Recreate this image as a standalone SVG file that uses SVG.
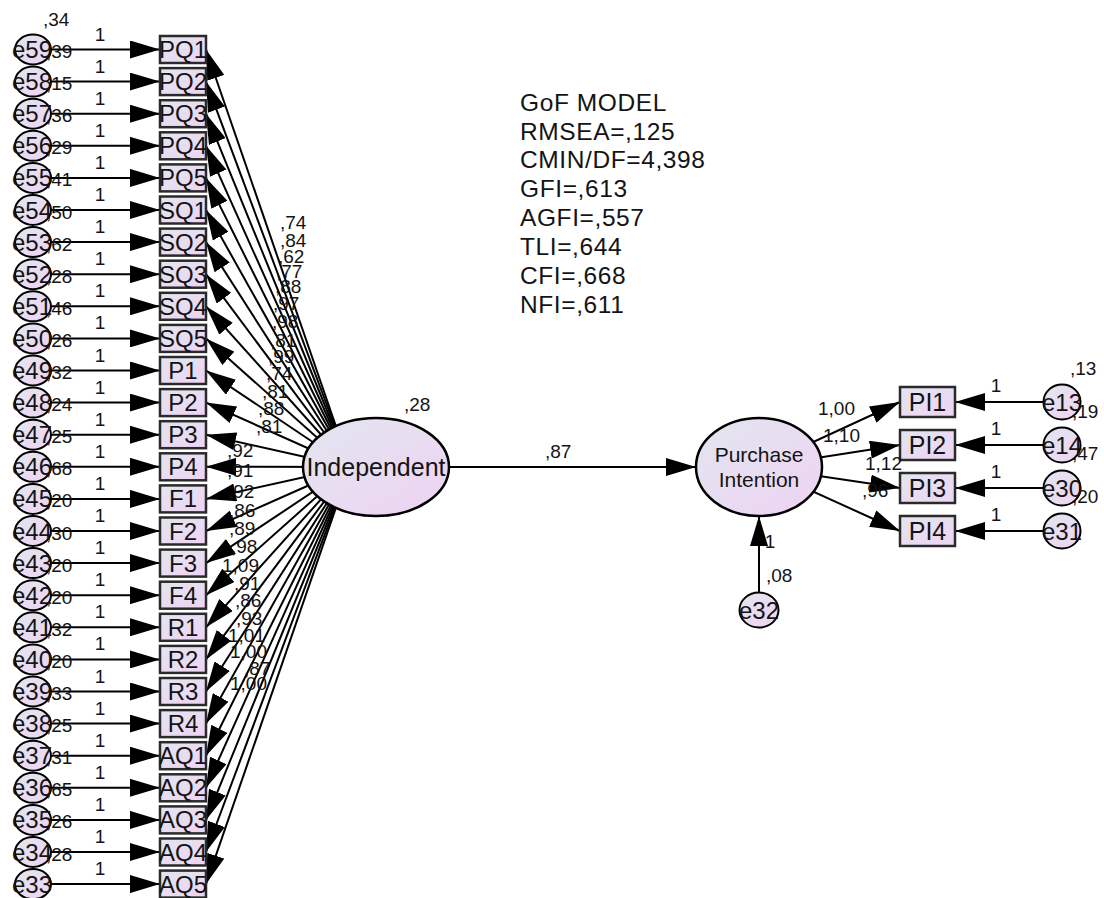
<svg xmlns="http://www.w3.org/2000/svg" width="1104" height="898" viewBox="0 0 1104 898">
<style>
text{font-family:"Liberation Sans",Arial,sans-serif;fill:#141414}
.n{font-size:24px;text-anchor:middle}
.v{font-size:19px}
.one{font-size:19px;text-anchor:middle}
.st{font-size:24.5px;letter-spacing:0.6px}
.pi{font-size:21px;text-anchor:middle}
.c path{fill:none;stroke:#000;stroke-width:2;marker-end:url(#ah)}
.box{fill:url(#g);stroke:#2a2a2a;stroke-width:2.5}
.cir{fill:url(#g);stroke:#000;stroke-width:2}
.lat{fill:url(#g);stroke:#000;stroke-width:2.5}
</style>
<defs>
<linearGradient id="g" x1="0" y1="0" x2="1" y2="1">
<stop offset="0" stop-color="#e2e6ef"/>
<stop offset="1" stop-color="#eed3f3"/>
</linearGradient>
<marker id="ah" markerUnits="userSpaceOnUse" markerWidth="30" markerHeight="18" refX="30" refY="9" orient="auto">
<path d="M0,0 L30,9 L0,18 z" fill="#000"/>
</marker>
</defs>
<rect width="1104" height="898" fill="#fff"/>
<g id="connectors" class="c">
<path d="M33 49.5H160"/><path d="M33 81.6H160"/><path d="M33 113.7H160"/><path d="M33 145.8H160"/><path d="M33 177.9H160"/><path d="M33 210H160"/><path d="M33 242.1H160"/><path d="M33 274.2H160"/><path d="M33 306.3H160"/><path d="M33 338.4H160"/><path d="M33 370.5H160"/><path d="M33 402.6H160"/><path d="M33 434.7H160"/><path d="M33 466.8H160"/><path d="M33 498.9H160"/><path d="M33 531H160"/><path d="M33 563.1H160"/><path d="M33 595.2H160"/><path d="M33 627.3H160"/><path d="M33 659.4H160"/><path d="M33 691.5H160"/><path d="M33 723.6H160"/><path d="M33 755.7H160"/><path d="M33 787.8H160"/><path d="M33 819.9H160"/><path d="M33 852H160"/><path d="M33 884.1H160"/>
<path d="M350 467L206 49.5"/><path d="M350 467L206 81.6"/><path d="M350 467L206 113.7"/><path d="M350 467L206 145.8"/><path d="M350 467L206 177.9"/><path d="M350 467L206 210"/><path d="M350 467L206 242.1"/><path d="M350 467L206 274.2"/><path d="M350 467L206 306.3"/><path d="M350 467L206 338.4"/><path d="M350 467L206 370.5"/><path d="M350 467L206 402.6"/><path d="M350 467L206 434.7"/><path d="M350 467L206 466.8"/><path d="M350 467L206 498.9"/><path d="M350 467L206 531"/><path d="M350 467L206 563.1"/><path d="M350 467L206 595.2"/><path d="M350 467L206 627.3"/><path d="M350 467L206 659.4"/><path d="M350 467L206 691.5"/><path d="M350 467L206 723.6"/><path d="M350 467L206 755.7"/><path d="M350 467L206 787.8"/><path d="M350 467L206 819.9"/><path d="M350 467L206 852"/><path d="M350 467L206 884.1"/>
<path d="M376 467H696"/>
<path d="M759 467L900 402"/><path d="M759 467L900 445"/><path d="M759 467L900 488"/><path d="M759 467L900 531"/>
<path d="M1062 402H955"/><path d="M1062 445H955"/><path d="M1062 488H955"/><path d="M1062 531H955"/>
<path d="M759 610V516"/>
</g>
<g id="e59"><ellipse class="cir" cx="33" cy="49.5" rx="18" ry="15"/><text class="n" x="32" y="58">e59</text></g>
<g id="e58"><ellipse class="cir" cx="33" cy="81.6" rx="18" ry="15"/><text class="n" x="32" y="90.1">e58</text></g>
<g id="e57"><ellipse class="cir" cx="33" cy="113.7" rx="18" ry="15"/><text class="n" x="32" y="122.2">e57</text></g>
<g id="e56"><ellipse class="cir" cx="33" cy="145.8" rx="18" ry="15"/><text class="n" x="32" y="154.3">e56</text></g>
<g id="e55"><ellipse class="cir" cx="33" cy="177.9" rx="18" ry="15"/><text class="n" x="32" y="186.4">e55</text></g>
<g id="e54"><ellipse class="cir" cx="33" cy="210" rx="18" ry="15"/><text class="n" x="32" y="218.5">e54</text></g>
<g id="e53"><ellipse class="cir" cx="33" cy="242.1" rx="18" ry="15"/><text class="n" x="32" y="250.6">e53</text></g>
<g id="e52"><ellipse class="cir" cx="33" cy="274.2" rx="18" ry="15"/><text class="n" x="32" y="282.7">e52</text></g>
<g id="e51"><ellipse class="cir" cx="33" cy="306.3" rx="18" ry="15"/><text class="n" x="32" y="314.8">e51</text></g>
<g id="e50"><ellipse class="cir" cx="33" cy="338.4" rx="18" ry="15"/><text class="n" x="32" y="346.9">e50</text></g>
<g id="e49"><ellipse class="cir" cx="33" cy="370.5" rx="18" ry="15"/><text class="n" x="32" y="379">e49</text></g>
<g id="e48"><ellipse class="cir" cx="33" cy="402.6" rx="18" ry="15"/><text class="n" x="32" y="411.1">e48</text></g>
<g id="e47"><ellipse class="cir" cx="33" cy="434.7" rx="18" ry="15"/><text class="n" x="32" y="443.2">e47</text></g>
<g id="e46"><ellipse class="cir" cx="33" cy="466.8" rx="18" ry="15"/><text class="n" x="32" y="475.3">e46</text></g>
<g id="e45"><ellipse class="cir" cx="33" cy="498.9" rx="18" ry="15"/><text class="n" x="32" y="507.4">e45</text></g>
<g id="e44"><ellipse class="cir" cx="33" cy="531" rx="18" ry="15"/><text class="n" x="32" y="539.5">e44</text></g>
<g id="e43"><ellipse class="cir" cx="33" cy="563.1" rx="18" ry="15"/><text class="n" x="32" y="571.6">e43</text></g>
<g id="e42"><ellipse class="cir" cx="33" cy="595.2" rx="18" ry="15"/><text class="n" x="32" y="603.7">e42</text></g>
<g id="e41"><ellipse class="cir" cx="33" cy="627.3" rx="18" ry="15"/><text class="n" x="32" y="635.8">e41</text></g>
<g id="e40"><ellipse class="cir" cx="33" cy="659.4" rx="18" ry="15"/><text class="n" x="32" y="667.9">e40</text></g>
<g id="e39"><ellipse class="cir" cx="33" cy="691.5" rx="18" ry="15"/><text class="n" x="32" y="700">e39</text></g>
<g id="e38"><ellipse class="cir" cx="33" cy="723.6" rx="18" ry="15"/><text class="n" x="32" y="732.1">e38</text></g>
<g id="e37"><ellipse class="cir" cx="33" cy="755.7" rx="18" ry="15"/><text class="n" x="32" y="764.2">e37</text></g>
<g id="e36"><ellipse class="cir" cx="33" cy="787.8" rx="18" ry="15"/><text class="n" x="32" y="796.3">e36</text></g>
<g id="e35"><ellipse class="cir" cx="33" cy="819.9" rx="18" ry="15"/><text class="n" x="32" y="828.4">e35</text></g>
<g id="e34"><ellipse class="cir" cx="33" cy="852" rx="18" ry="15"/><text class="n" x="32" y="860.5">e34</text></g>
<g id="e33"><ellipse class="cir" cx="33" cy="884.1" rx="18" ry="15"/><text class="n" x="32" y="892.6">e33</text></g>
<g id="PQ1"><rect class="box" x="160" y="36" width="46" height="27"/><text class="n" x="183" y="58">PQ1</text></g>
<g id="PQ2"><rect class="box" x="160" y="68.1" width="46" height="27"/><text class="n" x="183" y="90.1">PQ2</text></g>
<g id="PQ3"><rect class="box" x="160" y="100.2" width="46" height="27"/><text class="n" x="183" y="122.2">PQ3</text></g>
<g id="PQ4"><rect class="box" x="160" y="132.3" width="46" height="27"/><text class="n" x="183" y="154.3">PQ4</text></g>
<g id="PQ5"><rect class="box" x="160" y="164.4" width="46" height="27"/><text class="n" x="183" y="186.4">PQ5</text></g>
<g id="SQ1"><rect class="box" x="160" y="196.5" width="46" height="27"/><text class="n" x="183" y="218.5">SQ1</text></g>
<g id="SQ2"><rect class="box" x="160" y="228.6" width="46" height="27"/><text class="n" x="183" y="250.6">SQ2</text></g>
<g id="SQ3"><rect class="box" x="160" y="260.7" width="46" height="27"/><text class="n" x="183" y="282.7">SQ3</text></g>
<g id="SQ4"><rect class="box" x="160" y="292.8" width="46" height="27"/><text class="n" x="183" y="314.8">SQ4</text></g>
<g id="SQ5"><rect class="box" x="160" y="324.9" width="46" height="27"/><text class="n" x="183" y="346.9">SQ5</text></g>
<g id="P1"><rect class="box" x="160" y="357" width="46" height="27"/><text class="n" x="183" y="379">P1</text></g>
<g id="P2"><rect class="box" x="160" y="389.1" width="46" height="27"/><text class="n" x="183" y="411.1">P2</text></g>
<g id="P3"><rect class="box" x="160" y="421.2" width="46" height="27"/><text class="n" x="183" y="443.2">P3</text></g>
<g id="P4"><rect class="box" x="160" y="453.3" width="46" height="27"/><text class="n" x="183" y="475.3">P4</text></g>
<g id="F1"><rect class="box" x="160" y="485.4" width="46" height="27"/><text class="n" x="183" y="507.4">F1</text></g>
<g id="F2"><rect class="box" x="160" y="517.5" width="46" height="27"/><text class="n" x="183" y="539.5">F2</text></g>
<g id="F3"><rect class="box" x="160" y="549.6" width="46" height="27"/><text class="n" x="183" y="571.6">F3</text></g>
<g id="F4"><rect class="box" x="160" y="581.7" width="46" height="27"/><text class="n" x="183" y="603.7">F4</text></g>
<g id="R1"><rect class="box" x="160" y="613.8" width="46" height="27"/><text class="n" x="183" y="635.8">R1</text></g>
<g id="R2"><rect class="box" x="160" y="645.9" width="46" height="27"/><text class="n" x="183" y="667.9">R2</text></g>
<g id="R3"><rect class="box" x="160" y="678" width="46" height="27"/><text class="n" x="183" y="700">R3</text></g>
<g id="R4"><rect class="box" x="160" y="710.1" width="46" height="27"/><text class="n" x="183" y="732.1">R4</text></g>
<g id="AQ1"><rect class="box" x="160" y="742.2" width="46" height="27"/><text class="n" x="183" y="764.2">AQ1</text></g>
<g id="AQ2"><rect class="box" x="160" y="774.3" width="46" height="27"/><text class="n" x="183" y="796.3">AQ2</text></g>
<g id="AQ3"><rect class="box" x="160" y="806.4" width="46" height="27"/><text class="n" x="183" y="828.4">AQ3</text></g>
<g id="AQ4"><rect class="box" x="160" y="838.5" width="46" height="27"/><text class="n" x="183" y="860.5">AQ4</text></g>
<g id="AQ5"><rect class="box" x="160" y="870.6" width="46" height="27"/><text class="n" x="183" y="892.6">AQ5</text></g>
<g id="Independent"><ellipse class="lat" cx="376" cy="467" rx="73" ry="49"/><text class="n" x="376" y="475.5" style="font-size:25px">Independent</text></g>
<g id="PurchaseIntention"><ellipse class="lat" cx="759" cy="467" rx="63" ry="49"/><text class="pi" x="759" y="462">Purchase</text><text class="pi" x="759" y="487">Intention</text></g>
<g id="PI1"><rect class="box" x="900" y="387" width="55" height="30"/><text class="n" x="927.5" y="410.5" style="font-size:25px">PI1</text></g>
<g id="PI2"><rect class="box" x="900" y="430" width="55" height="30"/><text class="n" x="927.5" y="453.5" style="font-size:25px">PI2</text></g>
<g id="PI3"><rect class="box" x="900" y="473" width="55" height="30"/><text class="n" x="927.5" y="496.5" style="font-size:25px">PI3</text></g>
<g id="PI4"><rect class="box" x="900" y="516" width="55" height="30"/><text class="n" x="927.5" y="539.5" style="font-size:25px">PI4</text></g>
<g id="e13"><ellipse class="cir" cx="1062" cy="402" rx="18.5" ry="17.5"/><text class="n" x="1062" y="410.5">e13</text></g>
<g id="e14"><ellipse class="cir" cx="1062" cy="445" rx="18.5" ry="17.5"/><text class="n" x="1062" y="453.5">e14</text></g>
<g id="e30"><ellipse class="cir" cx="1062" cy="488" rx="18.5" ry="17.5"/><text class="n" x="1062" y="496.5">e30</text></g>
<g id="e31"><ellipse class="cir" cx="1062" cy="531" rx="18.5" ry="17.5"/><text class="n" x="1062" y="539.5">e31</text></g>
<g id="e32"><ellipse class="cir" cx="759" cy="610" rx="19.5" ry="17.5"/><text class="n" x="759" y="618.5">e32</text></g>
<g id="labels">
<g class="one">
<text x="100" y="40.5">1</text><text x="100" y="72.6">1</text><text x="100" y="104.7">1</text><text x="100" y="136.8">1</text><text x="100" y="168.9">1</text><text x="100" y="201">1</text><text x="100" y="233.1">1</text><text x="100" y="265.2">1</text><text x="100" y="297.3">1</text><text x="100" y="329.4">1</text><text x="100" y="361.5">1</text><text x="100" y="393.6">1</text><text x="100" y="425.7">1</text><text x="100" y="457.8">1</text><text x="100" y="489.9">1</text><text x="100" y="522">1</text><text x="100" y="554.1">1</text><text x="100" y="586.2">1</text><text x="100" y="618.3">1</text><text x="100" y="650.4">1</text><text x="100" y="682.5">1</text><text x="100" y="714.6">1</text><text x="100" y="746.7">1</text><text x="100" y="778.8">1</text><text x="100" y="810.9">1</text><text x="100" y="843">1</text><text x="100" y="875.1">1</text>
<text x="996" y="392">1</text><text x="996" y="435">1</text><text x="996" y="478">1</text><text x="996" y="521">1</text>
<text x="770" y="548">1</text>
</g>
<g class="v">
<text x="43" y="26">,34</text>
<text x="46" y="58">,39</text><text x="46" y="90.1">,15</text><text x="46" y="122.2">,36</text><text x="46" y="154.3">,29</text><text x="46" y="186.4">,41</text><text x="46" y="218.5">,50</text><text x="46" y="250.6">,62</text><text x="46" y="282.7">,28</text><text x="46" y="314.8">,46</text><text x="46" y="346.9">,26</text><text x="46" y="379">,32</text><text x="46" y="411.1">,24</text><text x="46" y="443.2">,25</text><text x="46" y="475.3">,68</text><text x="46" y="507.4">,20</text><text x="46" y="539.5">,30</text><text x="46" y="571.6">,20</text><text x="46" y="603.7">,20</text><text x="46" y="635.8">,32</text><text x="46" y="667.9">,20</text><text x="46" y="700">,33</text><text x="46" y="732.1">,25</text><text x="46" y="764.2">,31</text><text x="46" y="796.3">,65</text><text x="46" y="828.4">,26</text><text x="46" y="860.5">,28</text>
<text x="280" y="229">,74</text><text x="280" y="247">,84</text><text x="278" y="263">,62</text><text x="276" y="278">,77</text><text x="275" y="293">,88</text><text x="273" y="310">,97</text><text x="272" y="328">,98</text><text x="270" y="347">,81</text><text x="268" y="363">,99</text><text x="266" y="380">,74</text><text x="262" y="398">,81</text><text x="258" y="415">,88</text><text x="256" y="433">,81</text>
<text x="227" y="457">,92</text><text x="227" y="477">,91</text><text x="228" y="498">,92</text><text x="229" y="517">,86</text><text x="229" y="535">,89</text><text x="231" y="553">,98</text><text x="222" y="572">1,09</text><text x="234" y="590">,91</text><text x="235" y="607">,86</text><text x="236" y="625">,93</text><text x="228" y="642">1,01</text><text x="230" y="658">1,00</text><text x="244" y="675">,87</text><text x="230" y="690">1,00</text>
<text x="404" y="411">,28</text>
<text x="545" y="458">,87</text>
<text x="818" y="415">1,00</text><text x="823" y="442">1,10</text><text x="865" y="470">1,12</text><text x="862" y="497">,96</text>
<text x="1070" y="375">,13</text><text x="1072" y="418">,19</text><text x="1072" y="460">,47</text><text x="1072" y="503">,20</text>
<text x="766" y="582">,08</text>
</g>
</g>
<g id="fit" class="st">
<text x="520" y="111">GoF MODEL</text>
<text x="520" y="140">RMSEA=,125</text>
<text x="520" y="168">CMIN/DF=4,398</text>
<text x="520" y="197">GFI=,613</text>
<text x="520" y="226">AGFI=,557</text>
<text x="520" y="255">TLI=,644</text>
<text x="520" y="284">CFI=,668</text>
<text x="520" y="313">NFI=,611</text>
</g>
</svg>
